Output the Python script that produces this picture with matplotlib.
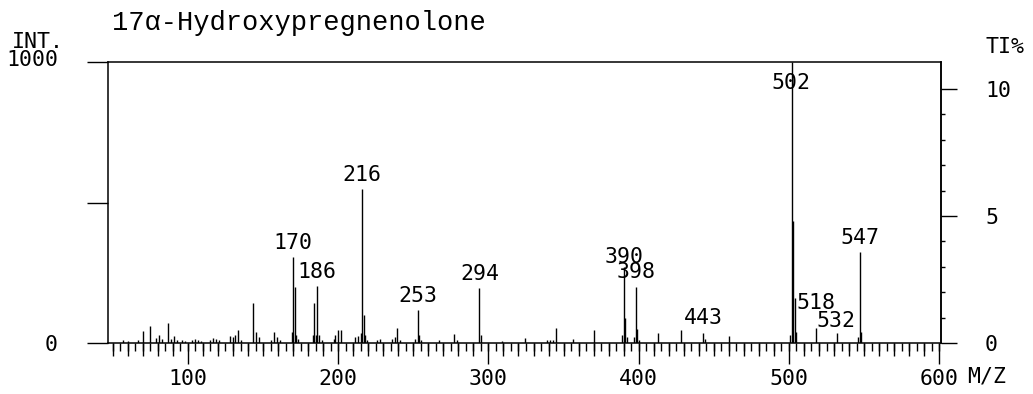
import matplotlib
matplotlib.use("Agg")
import matplotlib.pyplot as plt
from matplotlib.transforms import ScaledTranslation

# ---------------- data ----------------
title = "17\u03b1-Hydroxypregnenolone"

mz = [57, 60, 67, 70, 75, 79, 81, 83, 87, 89, 91, 93, 96, 98,
      103, 105, 107, 109, 115, 117, 119, 121, 128, 130, 131, 133, 135,
      143, 145, 147, 155, 157, 159, 161, 169, 170, 171, 172, 173,
      183, 184, 185, 186, 187, 189, 197, 198, 200, 202,
      211, 213, 215, 216, 217, 218, 219, 226, 228, 236, 238, 239, 241,
      251, 253, 254, 255, 267, 277, 279, 294, 295, 309, 324,
      339, 341, 343, 345, 356, 370, 389, 390, 391, 392, 397, 398, 399, 400,
      413, 428, 443, 444, 460, 501, 502, 503, 504, 505, 518, 532,
      546, 547, 548]
intensity = [10, 8, 12, 41, 60, 18, 30, 15, 70, 15, 25, 12, 10, 8,
             12, 15, 12, 8, 10, 18, 15, 12, 25, 20, 30, 45, 12,
             143, 38, 20, 12, 40, 20, 10, 40, 307, 200, 30, 15,
             30, 142, 30, 203, 30, 12, 15, 30, 45, 45,
             20, 25, 35, 548, 100, 30, 10, 12, 15, 15, 20, 53, 12,
             15, 117, 30, 10, 12, 32, 10, 196, 30, 8, 18,
             10, 12, 10, 53, 15, 45, 30, 270, 90, 20, 20, 199, 50, 10,
             35, 45, 35, 15, 25, 30, 1000, 434, 160, 40, 55, 35,
             20, 324, 40]

labeled_mz = [170, 186, 216, 253, 294, 390, 398, 443, 502, 518, 532, 547]

x_tick_values = [100, 200, 300, 400, 500, 600]
x_tick_labels = ["100", "200", "300", "400", "500", "600"]
left_tick_values = [0, 500, 1000]
left_tick_labels = ["0", "", "1000"]
right_tick_values = [0, 5, 10]
right_tick_labels = ["0", "5", "10"]

# ---------------- layout ----------------
W, H = 1033, 394
DPI = 100
MONO = ["DejaVu Sans Mono"]
FS = 15.5
px = 72.0 / DPI  # points per pixel

fig = plt.figure(figsize=(W / DPI, H / DPI), dpi=DPI)
ax = fig.add_axes([108 / W, 1 - 343 / H, (941 - 108) / W, (343 - 62) / H])
ax.set_xlim(46.8, 601.2)
ax.set_ylim(0, 1000)

ax.vlines(mz, 0, intensity, colors="black", lw=1.0)

# peak labels
lookup = dict(zip(mz, intensity))
offsets = {390: (0, 10), 398: (0, 15), 443: (0, 15), 502: (-1, -21),
           518: (0, 25), 532: (-1, 12)}
for m in labeled_mz:
    dx, dy = offsets.get(m, (0, 14))
    ax.annotate(str(m), xy=(m, lookup[m]), xytext=(dx, dy),
                textcoords="offset pixels", ha="center", va="center",
                fontsize=FS, family=MONO, color="black")

# spines
for s in ax.spines.values():
    s.set_linewidth(1.1)

# x axis ticks
ax.set_xticks(x_tick_values)
ax.set_xticklabels(x_tick_labels, family=MONO, fontsize=FS)
ax.set_xticks(list(range(50, 601, 10)), minor=True)
ax.tick_params(axis="x", which="major", direction="out", length=21 * px,
               width=1.0, pad=5 * px)
ax.tick_params(axis="x", which="minor", direction="out", length=13 * px,
               width=1.0)
sec = ax.secondary_xaxis("bottom")
sec.set_xticks(list(range(50, 601, 5)))
sec.tick_params(axis="x", direction="out", length=8 * px, width=1.0,
                labelbottom=False)
sec.spines["bottom"].set_visible(False)

ax.annotate("M/Z", xy=(600, 0), xytext=(28, -33), textcoords="offset pixels",
            ha="left", va="center", fontsize=FS, family=MONO)

# left axis
ax.set_yticks(left_tick_values)
ax.set_yticklabels(left_tick_labels, family=MONO, fontsize=FS)
ax.tick_params(axis="y", which="major", direction="out", length=21 * px,
               width=1.0, pad=29 * px, right=False)
yl = ax.get_yticklabels()
yl[2].set_transform(yl[2].get_transform() +
                    ScaledTranslation(0, 4 / DPI, fig.dpi_scale_trans))

# right axis (TI%)
ax2 = ax.twinx()
ax2.set_ylim(0, 11.06)
ax2.set_yticks(right_tick_values)
ax2.set_yticklabels(right_tick_labels, family=MONO, fontsize=FS)
ax2.set_yticks([1, 2, 3, 4, 6, 7, 8, 9], minor=True)
ax2.tick_params(axis="y", which="major", direction="out", length=16 * px,
                width=1.0, pad=28 * px)
ax2.tick_params(axis="y", which="minor", direction="out", length=4 * px,
                width=1.0)
for s in ax2.spines.values():
    s.set_visible(False)
ax2.spines["right"].set_visible(True)
ax2.spines["right"].set_linewidth(1.1)

# texts
fig.text(112 / W, 1 - 30 / H, title, ha="left", va="baseline",
         family=["Liberation Mono", "DejaVu Sans Mono"], fontsize=19.5)
fig.text(12 / W, 1 - 42 / H, "INT.", ha="left", va="center",
         family=MONO, fontsize=FS)
fig.text(985 / W, 1 - 47 / H, "TI%", ha="left", va="center",
         family=MONO, fontsize=FS)

fig.savefig("out.png", dpi=DPI)
